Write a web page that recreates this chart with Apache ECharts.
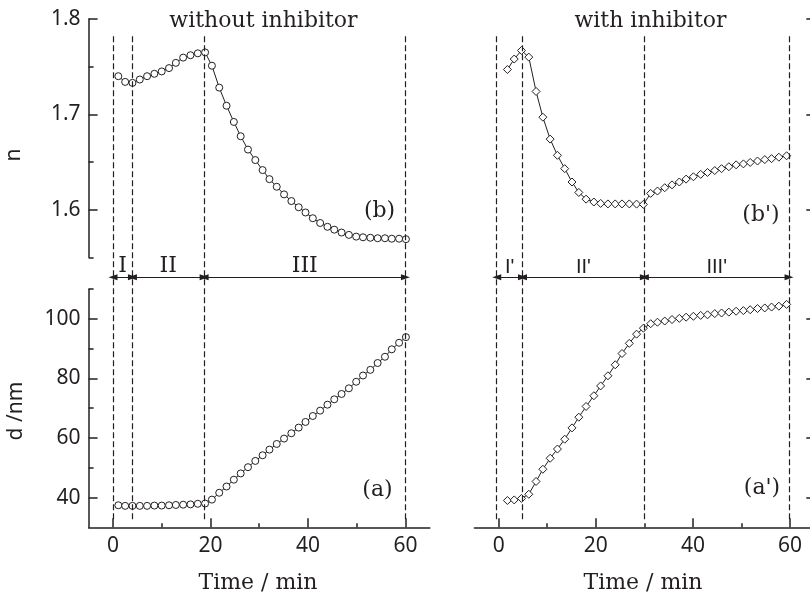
<!DOCTYPE html>
<html>
<head>
<meta charset="utf-8">
<script src="https://cdn.jsdelivr.net/npm/echarts@6.0.0/dist/echarts.min.js"></script>
<style>
  html, body { margin: 0; padding: 0; background: #fff; }
  #chart { width: 810px; height: 598px; }
</style>
</head>
<body>
<div id="chart"></div>
<script>
// =====================================================================================================================
// DONNEES

// sans inhibiteur
var timeA = [1.1, 2.5, 4.0, 5.5, 7.0, 8.5, 10.0, 11.5, 12.9, 14.4, 15.9, 17.4, 18.9, 20.3, 21.8, 23.3, 24.8, 26.2,
  27.7, 29.2, 30.7, 32.1, 33.6, 35.1, 36.6, 38.1, 39.5, 41.0, 42.5, 44.0, 45.4, 46.9, 48.4, 49.9, 51.3, 52.8, 54.3,
  55.8, 57.2, 58.7, 60.1];
var nA = [1.740, 1.734, 1.733, 1.7365, 1.740, 1.7425, 1.745, 1.7485, 1.754, 1.7595, 1.762, 1.764, 1.765, 1.751,
  1.728, 1.709, 1.692, 1.677, 1.663, 1.652, 1.6415, 1.632, 1.624, 1.616, 1.609, 1.6025, 1.597, 1.591, 1.586, 1.582,
  1.579, 1.576, 1.5735, 1.5717, 1.571, 1.5705, 1.570, 1.570, 1.5695, 1.5695, 1.569];
var dA = [37.4, 37.2, 37.2, 37.2, 37.2, 37.3, 37.3, 37.4, 37.5, 37.6, 37.7, 37.9, 38.0, 39.3, 41.6, 43.7, 46.0, 48.1,
  50.2, 52.3, 54.2, 56.1, 58.0, 59.8, 61.6, 63.5, 65.4, 67.4, 69.2, 71.2, 73.0, 74.8, 76.7, 78.9, 81.0, 82.9, 85.2,
  87.3, 89.8, 92.0, 93.9];

// avec inhibiteur
var timeB = [1.8, 3.2, 4.7, 6.2, 7.7, 9.1, 10.6, 12.1, 13.6, 15.1, 16.5, 18.0, 19.6, 21.0, 22.5, 24.0, 25.4, 26.9,
  28.4, 29.8, 31.3, 32.7, 34.2, 35.7, 37.2, 38.6, 40.1, 41.6, 43.0, 44.5, 45.9, 47.4, 48.9, 50.4, 51.8, 53.3, 54.8,
  56.2, 57.7, 59.3];
var nB = [1.747, 1.758, 1.767, 1.760, 1.724, 1.697, 1.674, 1.657, 1.643, 1.629, 1.618, 1.611, 1.608, 1.6065, 1.606,
  1.606, 1.606, 1.606, 1.6058, 1.6055, 1.617, 1.6195, 1.623, 1.626, 1.629, 1.632, 1.6345, 1.637, 1.639, 1.641, 1.643,
  1.645, 1.647, 1.648, 1.6495, 1.651, 1.6525, 1.6535, 1.655, 1.6565];
var dB = [39.0, 39.2, 39.7, 41.1, 45.4, 49.5, 53.2, 56.3, 59.6, 63.4, 67.0, 70.6, 74.2, 77.5, 80.9, 84.6, 88.4, 91.8,
  94.9, 96.9, 98.4, 98.9, 99.3, 99.8, 100.2, 100.6, 100.9, 101.2, 101.4, 101.8, 102.0, 102.3, 102.6, 102.8, 103.1,
  103.5, 103.7, 104.0, 104.3, 104.9];

// limites des étapes
var phaseA = [0, 4, 18.7, 60];
var phaseB = [-0.4, 4.9, 30, 59.8];
var phaseNamesA = ['I', 'II', 'III'];
var phaseNamesB = ["I'", "II'", "III'"];

// graduations
var timeTicks = [0, 20, 40, 60];
var timeMinor = [10, 30, 50];
var nTicks = [1.6, 1.7, 1.8];
var nMinor = [1.55, 1.65, 1.75];
var dTicks = [40, 60, 80, 100];
var dMinor = [50, 70, 90, 110];

// =====================================================================================================================
// STYLES

var ink = '#231f20';
var sansFont = '"Noto Sans", "Open Sans", sans-serif';
var serifFont = '"DejaVu Serif", serif';
var narrowFont = '"Liberation Sans Narrow", "Liberation Sans", sans-serif';

function pairs(xs, ys) {
  return xs.map(function (x, i) { return [x, ys[i]]; });
}

function axis(grid, min, max, position, ticks, tickLen, labels) {
  return {
    type: 'value',
    gridIndex: grid,
    min: min,
    max: max,
    position: position,
    axisLine: {show: tickLen > 5, onZero: false, lineStyle: {color: ink, width: 1.5}},
    axisTick: {show: true, inside: true, length: tickLen, customValues: ticks, lineStyle: {color: ink, width: 1.5}},
    axisLabel: {
      show: labels,
      customValues: ticks,
      margin: 8,
      color: ink,
      fontFamily: sansFont,
      fontSize: 21
    },
    splitLine: {show: false}
  };
}

function hiddenAxis(grid, min, max) {
  return {type: 'value', gridIndex: grid, min: min, max: max, show: false, splitLine: {show: false}};
}

function grid(left, top, width, height) {
  return {left: left, top: top, width: width, height: height, outerBoundsMode: 'none', containLabel: false};
}

function curve(xi, yi, xs, ys, symbol, size) {
  return {
    type: 'line',
    xAxisIndex: xi,
    yAxisIndex: yi,
    data: pairs(xs, ys),
    symbol: symbol,
    symbolSize: size,
    showAllSymbol: true,
    lineStyle: {color: ink, width: 1},
    itemStyle: {color: '#fff', borderColor: ink, borderWidth: 1},
    silent: true
  };
}

// lignes pointillées verticales + flèches des étapes
function phases(xi, yi, bounds, names, font, fontSize) {
  var dashed = bounds.map(function (t) {
    return [{coord: [t, 1.6]}, {coord: [t, 96.8]}];
  });
  var arrows = [];
  for (var i = 0; i < names.length; i++) {
    arrows.push([{coord: [bounds[i], 49.2], name: names[i]}, {coord: [bounds[i + 1], 49.2]}]);
  }
  return [
    {
      type: 'line', xAxisIndex: xi, yAxisIndex: yi, data: [], silent: true,
      markLine: {
        silent: true, symbol: ['none', 'none'], animation: false,
        lineStyle: {color: ink, width: 1.2, type: [6, 3]},
        label: {show: false},
        data: dashed
      }
    },
    {
      type: 'line', xAxisIndex: xi, yAxisIndex: yi, data: [], silent: true,
      markLine: {
        silent: true, symbol: ['triangle', 'triangle'], symbolSize: [6, 9], animation: false,
        lineStyle: {color: ink, width: 1, type: 'solid'},
        label: {
          show: true, position: 'insideMiddleTop', distance: 0, formatter: '{b}',
          color: ink, fontFamily: font, fontSize: fontSize
        },
        data: arrows
      }
    }
  ];
}

function text(x, y, str, font, size, rotation) {
  return {
    type: 'text', x: x, y: y, rotation: rotation || 0, silent: true,
    style: {text: str, fill: ink, font: size + 'px ' + font, textAlign: 'center', textVerticalAlign: 'middle'}
  };
}

// =====================================================================================================================
// GRAPHIQUE

var chart = echarts.init(document.getElementById('chart'), null, {renderer: 'canvas'});
var option = {
  animation: false,
  backgroundColor: '#fff',
  grid: [
    grid(88.6, 19, 341.2, 238.3),    // n sans inhibiteur
    grid(88.6, 289.2, 341.2, 238.1), // d sans inhibiteur
    grid(474.4, 19, 339.9, 238.3),   // n avec inhibiteur
    grid(474.4, 289.2, 339.9, 238.1),// d avec inhibiteur
    grid(88.6, 19, 341.2, 508.3),    // étapes gauche
    grid(474.4, 19, 339.9, 508.3)    // étapes droite
  ],
  xAxis: [
    hiddenAxis(0, -5, 65),
    axis(1, -5, 65, 'bottom', timeTicks, 9, true),
    axis(1, -5, 65, 'bottom', timeMinor, 4, false),
    hiddenAxis(2, -5, 65),
    axis(3, -5, 65, 'bottom', timeTicks, 9, true),
    axis(3, -5, 65, 'bottom', timeMinor, 4, false),
    hiddenAxis(4, -5, 65),
    hiddenAxis(5, -5, 65)
  ],
  yAxis: [
    axis(0, 1.55, 1.8, 'left', nTicks, 9, true),
    axis(0, 1.55, 1.8, 'left', nMinor, 5, false),
    axis(1, 30, 110, 'left', dTicks, 9, true),
    axis(1, 30, 110, 'left', dMinor, 5, false),
    axis(2, 1.55, 1.8, 'right', nTicks, 8, false),
    axis(3, 30, 110, 'right', dTicks, 8, false),
    hiddenAxis(4, 0, 100),
    hiddenAxis(5, 0, 100)
  ],
  series: [
    curve(0, 0, timeA, nA, 'circle', 7),
    curve(1, 2, timeA, dA, 'circle', 7),
    curve(3, 4, timeB, nB, 'diamond', 8),
    curve(4, 5, timeB, dB, 'diamond', 8)
  ].concat(phases(6, 6, phaseA, phaseNamesA, serifFont, 22))
   .concat(phases(7, 7, phaseB, phaseNamesB, narrowFont, 20)),
  graphic: [
    text(263.5, 21, 'without inhibitor', serifFont, 22),
    text(650.5, 21, 'with inhibitor', serifFont, 22),
    text(258, 583, 'Time / min', serifFont, 22),
    text(643, 583, 'Time / min', serifFont, 22),
    text(379.5, 211, '(b)', serifFont, 22),
    text(377.5, 490, '(a)', serifFont, 22),
    text(761, 215, "(b')", serifFont, 22),
    text(762, 488.5, "(a')", serifFont, 22),
    text(14.5, 155, 'n', sansFont, 21, Math.PI / 2),
    text(16.5, 411, 'd /nm', sansFont, 21, Math.PI / 2)
  ]
};

// application des options au graphique
chart.setOption(option);
</script>
</body>
</html>
